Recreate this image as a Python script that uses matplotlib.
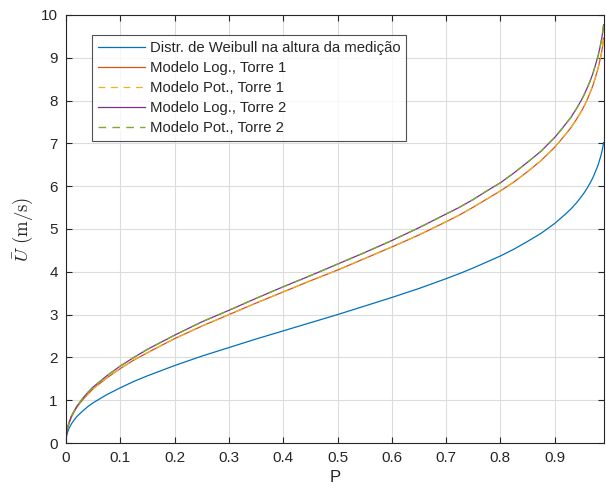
import numpy as np
import matplotlib
matplotlib.use("Agg")
from matplotlib import pyplot as plt

plt.rcParams['font.family'] = ['Liberation Sans', 'DejaVu Sans']
plt.rcParams['mathtext.fontset'] = 'cm'

# probability levels and wind speed read at each level
P = [0, 0.0005, 0.001, 0.002, 0.005, 0.01, 0.015, 0.02, 0.03, 0.04, 0.05, 0.075,
     0.1, 0.125, 0.15, 0.2, 0.25, 0.3, 0.35, 0.4, 0.45, 0.5, 0.55, 0.6, 0.65, 0.7,
     0.725, 0.75, 0.775, 0.8, 0.825, 0.85, 0.875, 0.9, 0.91, 0.92, 0.93, 0.94, 0.95,
     0.955, 0.96, 0.965, 0.97, 0.975, 0.98, 0.985, 0.988, 0.99]

weibull = [0, 0.12, 0.16, 0.22, 0.33, 0.45, 0.54, 0.62, 0.74, 0.85, 0.94, 1.13,
           1.29, 1.44, 1.57, 1.81, 2.03, 2.23, 2.43, 2.62, 2.81, 3.00, 3.20, 3.40, 3.61, 3.84,
           3.96, 4.09, 4.23, 4.37, 4.53, 4.71, 4.90, 5.13, 5.24, 5.35, 5.47, 5.61, 5.77,
           5.86, 5.96, 6.07, 6.19, 6.34, 6.50, 6.71, 6.87, 7.02]
log_t1 = [0, 0.16, 0.22, 0.30, 0.44, 0.61, 0.73, 0.84, 1.00, 1.14, 1.27, 1.52,
          1.74, 1.94, 2.11, 2.44, 2.73, 3.00, 3.27, 3.53, 3.79, 4.04, 4.31, 4.58, 4.86, 5.17,
          5.33, 5.51, 5.70, 5.89, 6.10, 6.34, 6.60, 6.91, 7.06, 7.21, 7.37, 7.56, 7.77,
          7.89, 8.03, 8.18, 8.34, 8.54, 8.76, 9.04, 9.25, 9.46]
pot_t1 = [0, 0.16, 0.22, 0.30, 0.44, 0.61, 0.73, 0.84, 1.00, 1.14, 1.27, 1.52,
          1.74, 1.94, 2.11, 2.44, 2.73, 3.00, 3.27, 3.53, 3.79, 4.04, 4.31, 4.58, 4.86, 5.17,
          5.33, 5.51, 5.70, 5.89, 6.10, 6.34, 6.60, 6.91, 7.06, 7.21, 7.37, 7.56, 7.77,
          7.89, 8.03, 8.18, 8.34, 8.54, 8.76, 9.04, 9.25, 9.46]
log_t2 = [0, 0.17, 0.22, 0.31, 0.46, 0.63, 0.75, 0.86, 1.03, 1.18, 1.31, 1.57,
          1.80, 2.00, 2.19, 2.52, 2.83, 3.10, 3.38, 3.65, 3.91, 4.18, 4.45, 4.73, 5.03, 5.35,
          5.51, 5.69, 5.89, 6.08, 6.31, 6.56, 6.82, 7.14, 7.29, 7.45, 7.61, 7.81, 8.03,
          8.16, 8.30, 8.45, 8.62, 8.83, 9.05, 9.34, 9.56, 9.77]
pot_t2 = [0, 0.17, 0.22, 0.31, 0.46, 0.63, 0.75, 0.86, 1.03, 1.18, 1.31, 1.57,
          1.80, 2.00, 2.19, 2.52, 2.83, 3.10, 3.38, 3.65, 3.91, 4.18, 4.45, 4.73, 5.03, 5.35,
          5.51, 5.69, 5.89, 6.08, 6.31, 6.56, 6.82, 7.14, 7.29, 7.45, 7.61, 7.81, 8.03,
          8.16, 8.30, 8.45, 8.62, 8.83, 9.05, 9.34, 9.56, 9.77]

labels = ['Distr. de Weibull na altura da medição', 'Modelo Log., Torre 1',
          'Modelo Pot., Torre 1', 'Modelo Log., Torre 2', 'Modelo Pot., Torre 2']

fig = plt.figure(figsize=(6.06, 4.93), dpi=100)
ax = fig.add_axes([0.109, 0.1014, 0.887, 0.8682])

dash = (0, (5.5, 4.5))
ax.plot(P, weibull, color='#0072BD', lw=0.9, label=labels[0])
ax.plot(P, log_t1, color='#D95319', lw=0.9, label=labels[1])
ax.plot(P, pot_t1, color='#EDB120', lw=0.9, ls=dash, label=labels[2])
ax.plot(P, log_t2, color='#7E2F8E', lw=0.9, label=labels[3])
ax.plot(P, pot_t2, color='#77AC30', lw=1.0, ls=dash, label=labels[4])

ax.set_xlim(0, 0.99)
ax.set_ylim(0, 10)
ax.set_xticks(np.arange(0, 0.95, 0.1))
ax.set_xticklabels(['0', '0.1', '0.2', '0.3', '0.4', '0.5', '0.6', '0.7', '0.8', '0.9'])
ax.set_yticks(range(0, 11))
ax.grid(True, color='#dcdcdc', lw=0.8)
ax.set_axisbelow(True)
ax.tick_params(direction='in', top=True, right=True, length=4, labelsize=11,
               colors='#262626', pad=6)
for s in ax.spines.values():
    s.set_color('#262626')
    s.set_linewidth(0.8)

ax.set_xlabel('P', fontsize=12, color='#262626', labelpad=3)
ax.set_ylabel(r'$\bar{U}\ \mathrm{(m/s)}$', fontsize=13.5, color='#262626', labelpad=4)

leg = ax.legend(loc='upper left', bbox_to_anchor=(0.048, 0.953), borderaxespad=0,
                fontsize=10.7, frameon=True, fancybox=False, handlelength=3.2,
                handletextpad=0.3, labelspacing=0.41, borderpad=0.4)
leg.get_frame().set_edgecolor('#262626')
leg.get_frame().set_linewidth(0.8)
for t in leg.get_texts():
    t.set_color('#262626')

fig.savefig('out.png', dpi=100)
